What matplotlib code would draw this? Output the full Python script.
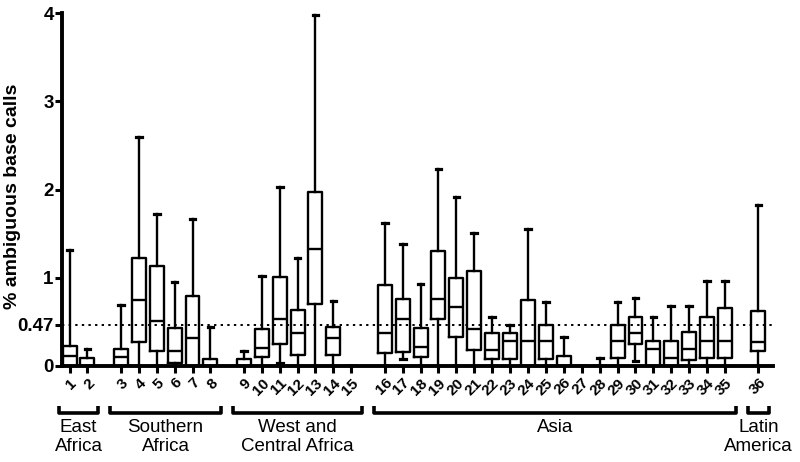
"""Box plots of % ambiguous base calls per study, grouped by region."""

import matplotlib.pyplot as plt
import matplotlib.transforms as mtransforms

plt.rcParams["font.family"] = ["Liberation Sans", "DejaVu Sans"]

# --- data ----------------------------------------------------------------
study_ids = [str(i) for i in range(1, 37)]
whislo = [0, 0, 0, 0, 0, 0, 0, 0, 0, 0, 0.03, 0, 0, 0, 0,
          0, 0.076, 0, 0, 0, 0, 0, 0, 0, 0, 0, 0, 0, 0, 0.06, 0, 0, 0, 0, 0,
          0]
q1 = [0, 0, 0, 0.272, 0.166, 0.038, 0, 0, 0, 0.102, 0.249, 0.128, 0.699, 0.121, 0,
      0.143, 0.155, 0.102, 0.533, 0.325, 0.185, 0.083, 0.079, 0, 0.079, 0, 0, 0,
      0.087, 0.249, 0, 0, 0.064, 0.087, 0.087,
      0.166]
median = [0.117, 0, 0.098, 0.745, 0.514, 0.17, 0.317, 0, 0, 0.208, 0.533, 0.378, 1.327, 0.317, 0,
          0.378, 0.537, 0.215, 0.756, 0.665, 0.416, 0.185, 0.28, 0.28, 0.28, 0, 0, 0,
          0.283, 0.378, 0.189, 0.087, 0.189, 0.283, 0.283,
          0.269]
q3 = [0.23, 0.094, 0.196, 1.224, 1.134, 0.431, 0.79, 0.083, 0.076, 0.416, 1.013, 0.631, 1.976, 0.442, 0,
      0.918, 0.763, 0.435, 1.304, 0.998, 1.077, 0.37, 0.378, 0.745, 0.461, 0.113, 0, 0,
      0.461, 0.556, 0.28, 0.28, 0.382, 0.556, 0.658,
      0.624]
whishi = [1.32, 0.196, 0.69, 2.60, 1.727, 0.952, 1.667, 0.446, 0.17, 1.02, 2.026, 1.224, 3.98, 0.737, 0,
          1.625, 1.387, 0.933, 2.234, 1.92, 1.508, 0.556, 0.461, 1.553, 0.72, 0.325, 0, 0.087,
          0.722, 0.771, 0.552, 0.68, 0.677, 0.96, 0.96,
          1.825]
regions = ["East\nAfrica", "Southern\nAfrica", "West and\nCentral Africa", "Asia", "Latin\nAmerica"]
region_sizes = [2, 6, 7, 20, 1]
threshold = 0.47

# --- positions: one slot per study, a wider gap between regions -----------
gap = 1.866
positions = []
group_spans = []
x = 0.0
for n in region_sizes:
    start = x
    for _ in range(n):
        positions.append(x)
        x += 1
    group_spans.append((start, x - 1))
    x += gap - 1

stats = [
    dict(whislo=lo, q1=a, med=m, q3=b, whishi=hi, fliers=[])
    for lo, a, m, b, hi in zip(whislo, q1, median, q3, whishi)
]

fig = plt.figure(figsize=(8, 4.62), dpi=100)
ax = fig.add_axes([0.0775, 0.2078, 0.8885, 0.764])

lw = 1.7
ax.bxp(stats, positions=positions, widths=0.78, capwidths=0.32,
       showfliers=False, patch_artist=False,
       boxprops=dict(color="black", linewidth=lw),
       medianprops=dict(color="black", linewidth=lw),
       whiskerprops=dict(color="black", linewidth=lw),
       capprops=dict(color="black", linewidth=2.3))

ax.axhline(threshold, color="black", linestyle=(0, (1.2, 2.2)), linewidth=1.4, zorder=1)

ax.set_xlim(positions[0] - 0.42, positions[-1] + 0.8)
ax.set_ylim(0, 4)
ax.set_yticks([0, threshold, 1, 2, 3, 4])
ax.set_yticklabels(["0", "0.47", "1", "2", "3", "4"], fontweight="bold", fontsize=13.5)
ax.set_xticks(positions)
ax.set_xticklabels(study_ids, rotation=45, ha="right", va="top",
                   rotation_mode="anchor", fontweight="bold", fontsize=11)
ax.tick_params(axis="both", width=2.2, length=5, color="black")
ax.tick_params(axis="y", pad=1)
ax.tick_params(axis="x", pad=2)

for side in ("top", "right"):
    ax.spines[side].set_visible(False)
for side in ("left", "bottom"):
    ax.spines[side].set_linewidth(2.8)

ax.set_ylabel("% ambiguous base calls", fontweight="bold", fontsize=14)
ax.yaxis.set_label_coords(-0.058, 0.48)

# region brackets under the axis
trans = mtransforms.blended_transform_factory(ax.transData, ax.transAxes)
for name, (a, b) in zip(regions, group_spans):
    x0, x1 = a - 0.6, b + 0.6
    ax.plot([x0, x0, x1, x1], [-0.112, -0.133, -0.133, -0.112], color="black",
            linewidth=2.6, transform=trans, clip_on=False, solid_capstyle="butt")
    ax.text((x0 + x1) / 2, -0.150, name, transform=trans, ha="center", va="top",
            fontsize=13.5, linespacing=1.15)

fig.savefig("out.png", dpi=100)
